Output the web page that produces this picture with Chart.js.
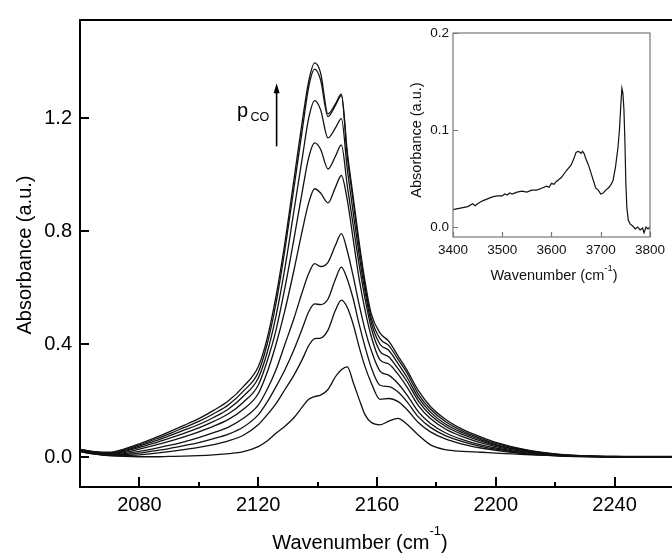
<!DOCTYPE html>
<html>
<head>
<meta charset="utf-8">
<script src="https://cdn.jsdelivr.net/npm/chart.js@4.4.1/dist/chart.umd.min.js"></script>
<style>
  html, body { margin: 0; padding: 0; background: #fff; overflow: hidden; }
  #wrap { position: relative; width: 672px; height: 554px; overflow: hidden; }
  #main { position: absolute; left: 0; top: 0; }
  #inset { position: absolute; left: 400px; top: 20px; }
</style>
</head>
<body>
<div id="wrap">
  <canvas id="main" width="676" height="554"></canvas>
  <canvas id="inset" width="270" height="275"></canvas>
</div>
<script>
// --- DATA ---
// wavenumbers shared by all main curves (cm-1)
const wavenumbers = [2060, 2065, 2070, 2075, 2080, 2085, 2090, 2095, 2100, 2105, 2110, 2115,
  2120, 2123, 2126, 2129, 2132, 2135, 2137, 2139, 2141, 2143.5, 2146, 2148, 2150, 2152, 2154,
  2156, 2158, 2161, 2164, 2167, 2170, 2174, 2178, 2183, 2189, 2195, 2200, 2210, 2220, 2230,
  2240, 2250, 2260];

// absorbance curves, highest CO pressure first
const curve1 = [0.028, 0.020, 0.018, 0.030, 0.048, 0.068, 0.090, 0.113, 0.137, 0.166, 0.200, 0.250,
  0.320, 0.420, 0.570, 0.760, 0.980, 1.200, 1.330, 1.395, 1.360, 1.215, 1.250, 1.285, 1.080, 0.920, 0.760,
  0.620, 0.510, 0.440, 0.410, 0.360, 0.310, 0.235, 0.180, 0.135, 0.098, 0.072, 0.053, 0.027, 0.012, 0.005,
  0.002, 0.001, 0.000];
const curve2 = [0.027, 0.019, 0.016, 0.027, 0.044, 0.063, 0.083, 0.105, 0.127, 0.154, 0.186, 0.234,
  0.300, 0.400, 0.545, 0.735, 0.950, 1.170, 1.310, 1.373, 1.335, 1.205, 1.245, 1.280, 1.065, 0.905, 0.745,
  0.605, 0.495, 0.420, 0.395, 0.348, 0.300, 0.222, 0.170, 0.127, 0.092, 0.067, 0.049, 0.025, 0.011, 0.005,
  0.002, 0.001, 0.000];
const curve3 = [0.026, 0.018, 0.014, 0.024, 0.040, 0.057, 0.076, 0.096, 0.116, 0.141, 0.171, 0.216,
  0.280, 0.370, 0.500, 0.670, 0.870, 1.070, 1.200, 1.262, 1.230, 1.130, 1.165, 1.198, 1.020, 0.865, 0.715,
  0.585, 0.480, 0.400, 0.378, 0.333, 0.285, 0.210, 0.160, 0.118, 0.086, 0.062, 0.045, 0.023, 0.010, 0.004,
  0.002, 0.001, 0.000];
const curve4 = [0.025, 0.017, 0.012, 0.021, 0.035, 0.050, 0.067, 0.085, 0.104, 0.127, 0.154, 0.195,
  0.255, 0.340, 0.450, 0.600, 0.770, 0.950, 1.060, 1.112, 1.090, 1.020, 1.065, 1.105, 0.960, 0.820, 0.680,
  0.560, 0.460, 0.375, 0.355, 0.315, 0.270, 0.198, 0.150, 0.110, 0.080, 0.057, 0.042, 0.021, 0.009, 0.004,
  0.002, 0.001, 0.000];
const curve5 = [0.024, 0.016, 0.010, 0.017, 0.029, 0.042, 0.056, 0.072, 0.090, 0.110, 0.134, 0.170,
  0.225, 0.300, 0.400, 0.520, 0.660, 0.810, 0.900, 0.950, 0.935, 0.900, 0.955, 0.997, 0.910, 0.770, 0.630,
  0.520, 0.430, 0.345, 0.330, 0.295, 0.250, 0.182, 0.137, 0.100, 0.072, 0.051, 0.038, 0.019, 0.008, 0.004,
  0.002, 0.001, 0.000];
const curve6 = [0.022, 0.014, 0.008, 0.013, 0.021, 0.031, 0.042, 0.055, 0.070, 0.087, 0.107, 0.138,
  0.185, 0.240, 0.310, 0.400, 0.490, 0.590, 0.650, 0.685, 0.675, 0.690, 0.750, 0.791, 0.730, 0.640, 0.540,
  0.450, 0.380, 0.305, 0.290, 0.262, 0.222, 0.160, 0.120, 0.087, 0.062, 0.044, 0.033, 0.016, 0.007, 0.003,
  0.001, 0.000, 0.000];
const curve7 = [0.021, 0.012, 0.007, 0.010, 0.015, 0.023, 0.031, 0.041, 0.052, 0.066, 0.082, 0.107,
  0.150, 0.195, 0.250, 0.310, 0.380, 0.460, 0.515, 0.543, 0.540, 0.560, 0.630, 0.673, 0.630, 0.560, 0.470,
  0.390, 0.320, 0.255, 0.250, 0.232, 0.198, 0.142, 0.106, 0.077, 0.055, 0.039, 0.029, 0.014, 0.006, 0.003,
  0.001, 0.000, 0.000];
const curve8 = [0.020, 0.011, 0.006, 0.007, 0.009, 0.014, 0.020, 0.027, 0.035, 0.045, 0.058, 0.078,
  0.115, 0.150, 0.190, 0.240, 0.290, 0.350, 0.395, 0.420, 0.422, 0.450, 0.520, 0.556, 0.530, 0.470, 0.390,
  0.320, 0.265, 0.205, 0.208, 0.198, 0.170, 0.122, 0.090, 0.065, 0.046, 0.033, 0.025, 0.012, 0.005, 0.002,
  0.001, 0.000, 0.000];
const curve9 = [0.020, 0.012, 0.006, 0.003, 0.002, 0.002, 0.003, 0.004, 0.006, 0.009, 0.013, 0.020,
  0.038, 0.058, 0.085, 0.110, 0.140, 0.180, 0.205, 0.215, 0.220, 0.240, 0.285, 0.310, 0.320, 0.265, 0.205,
  0.150, 0.124, 0.115, 0.128, 0.138, 0.118, 0.078, 0.044, 0.027, 0.021, 0.018, 0.015, 0.010, 0.007, 0.005,
  0.004, 0.003, 0.003];
const curves = [curve1, curve2, curve3, curve4, curve5, curve6, curve7, curve8, curve9];

// tick labels of the main plot
const xMajorTicks = [2080, 2120, 2160, 2200, 2240];
const xMinorTicks = [2100, 2140, 2180, 2220];
const yTicks = [0.0, 0.4, 0.8, 1.2];

// inset: OH stretching region
const insetWavenumbers = [3400, 3410, 3420, 3430, 3440, 3445, 3450, 3460, 3470, 3480, 3490, 3500,
  3505, 3510, 3515, 3520, 3530, 3540, 3550, 3560, 3570, 3580, 3590, 3595, 3600, 3605, 3610, 3620,
  3630, 3640, 3645, 3650, 3655, 3660, 3663, 3666, 3670, 3675, 3680, 3685, 3690, 3695, 3700, 3705,
  3710, 3715, 3720, 3725, 3730, 3735, 3738, 3741, 3743, 3745, 3747, 3749, 3751, 3753, 3756, 3760,
  3765, 3770, 3775, 3780, 3785, 3788, 3792, 3796, 3800];
const insetAbsorbance = [0.018, 0.019, 0.020, 0.021, 0.024, 0.022, 0.024, 0.027, 0.029, 0.031, 0.032, 0.032,
  0.034, 0.033, 0.035, 0.034, 0.036, 0.037, 0.036, 0.038, 0.038, 0.040, 0.042, 0.041, 0.045, 0.044, 0.047, 0.051,
  0.058, 0.064, 0.070, 0.077, 0.078, 0.076, 0.078, 0.076, 0.070, 0.064, 0.056, 0.048, 0.040, 0.038, 0.034, 0.035,
  0.038, 0.040, 0.043, 0.048, 0.062, 0.082, 0.100, 0.128, 0.143, 0.138, 0.122, 0.090, 0.045, 0.020, 0.007, 0.003,
  0.001, -0.002, 0.000, -0.003, -0.001, -0.006, 0.000, -0.002, 0.000];
const insetXTicks = [3400, 3500, 3600, 3700, 3800];
const insetYTicks = [0.0, 0.1, 0.2];

const FONT = '"Liberation Sans", Arial, Helvetica, sans-serif';
Chart.defaults.font.family = FONT;
Chart.defaults.color = '#000';

// draws "Wavenumber (cm-1)" with a real superscript, centred on cx
function drawWavenumberTitle(ctx, cx, baseline, size, supSize, supRise) {
  const head = 'Wavenumber (cm', sup = '-1', tail = ')';
  ctx.font = size + 'px ' + FONT;
  const w1 = ctx.measureText(head).width;
  const w3 = ctx.measureText(tail).width;
  ctx.font = supSize + 'px ' + FONT;
  const w2 = ctx.measureText(sup).width;
  let x0 = cx - (w1 + w2 + w3) / 2;
  ctx.textAlign = 'left';
  ctx.textBaseline = 'alphabetic';
  ctx.font = size + 'px ' + FONT;
  ctx.fillText(head, x0, baseline);
  ctx.font = supSize + 'px ' + FONT;
  ctx.fillText(sup, x0 + w1, baseline - supRise);
  ctx.font = size + 'px ' + FONT;
  ctx.fillText(tail, x0 + w1 + w2, baseline);
}

// --- MAIN CHART ---
const mainFrame = {
  id: 'mainFrame',
  afterDraw(chart) {
    const { ctx, chartArea: a, scales: { x, y } } = chart;
    ctx.save();
    ctx.strokeStyle = '#000';
    ctx.lineWidth = 2;
    ctx.beginPath();
    ctx.moveTo(a.left, a.top);
    ctx.lineTo(a.right + 2, a.top);
    // ticks point into the plot
    xMajorTicks.forEach(v => { const p = Math.round(x.getPixelForValue(v)); ctx.moveTo(p, a.bottom); ctx.lineTo(p, a.bottom - 10); });
    xMinorTicks.forEach(v => { const p = Math.round(x.getPixelForValue(v)); ctx.moveTo(p, a.bottom); ctx.lineTo(p, a.bottom - 5); });
    yTicks.forEach(v => { const p = Math.round(y.getPixelForValue(v)); ctx.moveTo(a.left, p); ctx.lineTo(a.left + 9, p); });
    ctx.stroke();

    // axis titles
    ctx.fillStyle = '#000';
    drawWavenumberTitle(ctx, 360, 549, 20, 13, 14);
    ctx.save();
    ctx.translate(31, 255);
    ctx.rotate(-Math.PI / 2);
    ctx.textAlign = 'center';
    ctx.textBaseline = 'alphabetic';
    ctx.font = '20px ' + FONT;
    ctx.fillText('Absorbance (a.u.)', 0, 0);
    ctx.restore();

    // p_CO label with arrow
    ctx.textAlign = 'left';
    ctx.font = '20px ' + FONT;
    ctx.fillText('p', 237, 117);
    ctx.font = '12.5px ' + FONT;
    ctx.fillText('CO', 250.5, 121);
    const ax = x.getPixelForValue(2126.2);
    const yBase = y.getPixelForValue(1.10), yTip = y.getPixelForValue(1.323);
    ctx.lineWidth = 1.6;
    ctx.beginPath();
    ctx.moveTo(ax, yBase);
    ctx.lineTo(ax, yTip + 8);
    ctx.stroke();
    ctx.beginPath();
    ctx.moveTo(ax, yTip);
    ctx.lineTo(ax - 3, yTip + 10);
    ctx.lineTo(ax + 3, yTip + 10);
    ctx.closePath();
    ctx.fill();
    ctx.restore();
  }
};

new Chart(document.getElementById('main'), {
  type: 'line',
  data: {
    datasets: curves.map(c => ({
      data: wavenumbers.map((w, i) => ({ x: w, y: c[i] })),
      borderColor: '#111',
      borderWidth: 1.3,
      pointRadius: 0,
      fill: false,
      cubicInterpolationMode: 'monotone'
    }))
  },
  options: {
    responsive: false,
    animation: false,
    devicePixelRatio: 1,
    layout: { padding: { top: 12, right: 2, left: 0, bottom: 0 } },
    plugins: { legend: { display: false }, tooltip: { enabled: false } },
    scales: {
      x: {
        type: 'linear',
        min: 2060,
        max: 2260,
        afterBuildTicks: s => { s.ticks = xMajorTicks.map(v => ({ value: v })); },
        afterFit: s => { s.height = 67; },
        grid: { display: false, drawTicks: false },
        border: { display: true, color: '#000', width: 2 },
        ticks: { autoSkip: false, maxRotation: 0, padding: 6, font: { size: 20 }, color: '#000', callback: v => String(v) }
      },
      y: {
        min: -0.105,
        max: 1.547,
        afterBuildTicks: s => { s.ticks = yTicks.map(v => ({ value: v })); },
        afterFit: s => { s.width = 80; },
        grid: { display: false, drawTicks: false },
        border: { display: true, color: '#000', width: 2 },
        ticks: { padding: 8, font: { size: 20 }, color: '#000', callback: v => v.toFixed(1) }
      }
    }
  },
  plugins: [mainFrame]
});

// --- INSET CHART ---
const insetFrame = {
  id: 'insetFrame',
  afterDraw(chart) {
    const { ctx, chartArea: a, scales: { x, y } } = chart;
    ctx.save();
    ctx.strokeStyle = '#777';
    ctx.lineWidth = 1.2;
    ctx.strokeRect(a.left, a.top, a.right - a.left, a.bottom - a.top);
    ctx.beginPath();
    insetXTicks.forEach(v => { const p = Math.round(x.getPixelForValue(v)) + 0.5; ctx.moveTo(p, a.bottom); ctx.lineTo(p, a.bottom - 5); });
    insetYTicks.forEach(v => { const p = Math.round(y.getPixelForValue(v)) + 0.5; ctx.moveTo(a.left, p); ctx.lineTo(a.left + 5, p); });
    ctx.stroke();

    ctx.fillStyle = '#111';
    drawWavenumberTitle(ctx, 154, 260, 14.5, 9.5, 9);
    ctx.save();
    ctx.translate(21, 120);
    ctx.rotate(-Math.PI / 2);
    ctx.textAlign = 'center';
    ctx.textBaseline = 'alphabetic';
    ctx.font = '14.5px ' + FONT;
    ctx.fillText('Absorbance (a.u.)', 0, 0);
    ctx.restore();
    ctx.restore();
  }
};

new Chart(document.getElementById('inset'), {
  type: 'line',
  data: {
    datasets: [{
      data: insetWavenumbers.map((w, i) => ({ x: w, y: insetAbsorbance[i] })),
      borderColor: '#111',
      borderWidth: 1.2,
      pointRadius: 0,
      fill: false,
      tension: 0
    }]
  },
  options: {
    responsive: false,
    animation: false,
    devicePixelRatio: 1,
    layout: { padding: { top: 13, right: 13, left: 0, bottom: 0 } },
    plugins: { legend: { display: false }, tooltip: { enabled: false } },
    scales: {
      x: {
        type: 'linear',
        min: 3400,
        max: 3800,
        afterBuildTicks: s => { s.ticks = insetXTicks.map(v => ({ value: v })); },
        afterFit: s => { s.height = 58; },
        grid: { display: false, drawTicks: false },
        border: { display: false },
        ticks: { autoSkip: false, maxRotation: 0, padding: 5, font: { size: 13.5 }, color: '#111', callback: v => String(v) }
      },
      y: {
        min: -0.0103,
        max: 0.2,
        afterBuildTicks: s => { s.ticks = insetYTicks.map(v => ({ value: v })); },
        afterFit: s => { s.width = 53; },
        grid: { display: false, drawTicks: false },
        border: { display: false },
        ticks: { padding: 4, font: { size: 13.5 }, color: '#111', callback: v => v.toFixed(1) }
      }
    }
  },
  plugins: [insetFrame]
});
</script>
</body>
</html>
